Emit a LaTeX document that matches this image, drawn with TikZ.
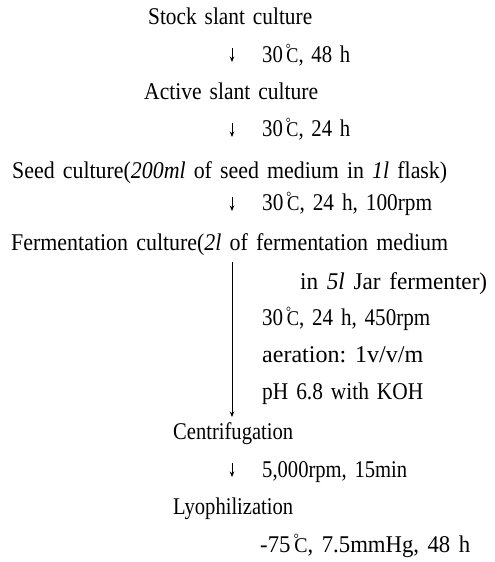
\documentclass[tikz,border=0pt]{standalone}
\usepackage{fontspec}
\setmainfont[FakeStretch=0.86]{Liberation Serif}
\usetikzlibrary{arrows.meta}
\newcommand\dgc{\kern0.12em\raisebox{8.2pt}{\fontsize{14}{14}\selectfont °}\kern-4.2pt{\fontsize{21}{21}\selectfont C}}
\newcommand\wsp{\frenchspacing\spaceskip=0.32em\relax}
\newcommand\fitw[2]{\resizebox{#1}{\height}{#2}}
\begin{document}
\begin{tikzpicture}[x=1pt,y=-1pt,
  txt/.style={anchor=base west, inner sep=0pt, font=\fontsize{24}{28}\selectfont\wsp},
  sarr/.style={line width=0.9pt, -{Stealth[length=5.5pt,width=4.5pt]}}]
\useasboundingbox (0,0) rectangle (495,562);
\node[txt] (stock) at (148,24) {\fitw{164pt}{Stock slant culture}};
\node[txt] (c1) at (262,62) {\fitw{88pt}{30\dgc, 48 h}};
\node[txt] (active) at (144,99) {\fitw{174pt}{Active slant culture}};
\node[txt] (c2) at (262,136) {\fitw{88pt}{30\dgc, 24 h}};
\node[txt] (seed) at (12,178) {\fitw{435pt}{Seed culture(\textit{200ml} of seed medium in \textit{1l} flask)}};
\node[txt] (c3) at (262,210) {\fitw{170pt}{30\dgc, 24 h, 100rpm}};
\node[txt] (ferm) at (11,250) {\fitw{437pt}{Fermentation culture(\textit{2l} of fermentation medium}};
\node[txt] (ferm2) at (300,289) {\fitw{187pt}{in \textit{5l} Jar fermenter)}};
\node[txt] (c4a) at (262,325) {\fitw{168pt}{30\dgc, 24 h, 450rpm}};
\node[txt] (c4b) at (262,362) {\fitw{161pt}{aeration: 1v/v/m}};
\node[txt] (c4c) at (262,399) {\fitw{161pt}{pH 6.8 with KOH}};
\node[txt] (centr) at (173,439) {\fitw{120pt}{Centrifugation}};
\node[txt] (c5) at (262,477) {\fitw{145pt}{5,000rpm, 15min}};
\node[txt] (lyo) at (173,514) {\fitw{120pt}{Lyophilization}};
\node[txt] (c6) at (260,552) {\fitw{210pt}{-75\dgc, 7.5mmHg, 48 h}};
\coordinate (a1s) at (232,48); \coordinate (a1e) at (232,62);
\coordinate (a2s) at (232,123); \coordinate (a2e) at (232,137);
\coordinate (a3s) at (232,197); \coordinate (a3e) at (232,211);
\coordinate (a4s) at (232,262); \coordinate (a4e) at (232,417);
\coordinate (a5s) at (232,463); \coordinate (a5e) at (232,477);
\draw[sarr] (a1s) -- (a1e);
\draw[sarr] (a2s) -- (a2e);
\draw[sarr] (a3s) -- (a3e);
\draw[sarr] (a4s) -- (a4e);
\draw[sarr] (a5s) -- (a5e);
\end{tikzpicture}
\end{document}
